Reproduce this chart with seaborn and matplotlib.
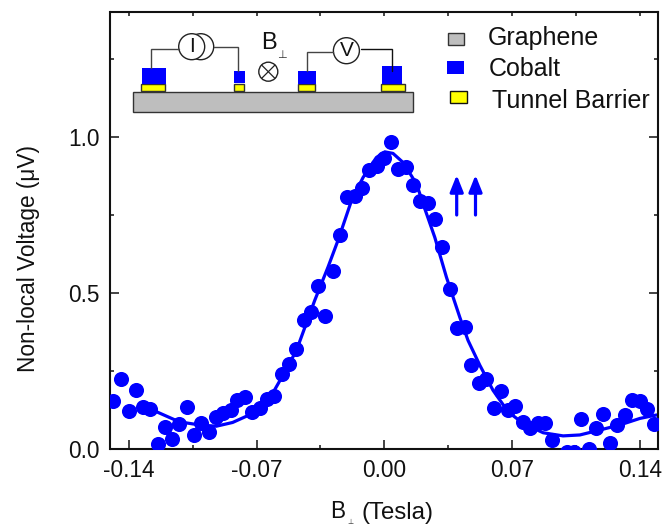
import matplotlib
matplotlib.use('Agg')
import matplotlib.pyplot as plt
import pandas as pd
import seaborn as sns
from matplotlib.patches import Circle, Rectangle
from matplotlib.ticker import FixedLocator

# measured points
field = [-0.1487, -0.1441, -0.1401, -0.1362, -0.1322, -0.1282, -0.1242, -0.1204, -0.1164, -0.1123,
         -0.1083, -0.1043, -0.1003, -0.0963, -0.0924, -0.0884, -0.0842, -0.0805, -0.0763, -0.0723,
         -0.0681, -0.0645, -0.0602, -0.0562, -0.0522, -0.0482, -0.0441, -0.0401, -0.0361, -0.0322,
         -0.0282, -0.0242, -0.0202, -0.0162, -0.0122, -0.0083, -0.0041, -0.0001, 0.0039, 0.0078,
         0.0118, 0.0158, 0.0198, 0.0240, 0.0279, 0.0319, 0.0359, 0.0399, 0.0440, 0.0478,
         0.0518, 0.0558, 0.0599, 0.0639, 0.0677, 0.0717, 0.0759, 0.0799, 0.0840, 0.0880,
         0.0918, 0.0999, 0.1039, 0.1079, 0.1120, 0.1160, 0.1200, 0.1238, 0.1278, 0.1320,
         0.1359, 0.1401, 0.1437, 0.1479]
voltage = [0.153, 0.224, 0.122, 0.189, 0.133, 0.127, 0.015, 0.069, 0.033, 0.081,
           0.134, 0.045, 0.083, 0.054, 0.102, 0.114, 0.124, 0.157, 0.165, 0.120,
           0.132, 0.160, 0.170, 0.239, 0.272, 0.319, 0.414, 0.438, 0.522, 0.426,
           0.571, 0.685, 0.806, 0.811, 0.837, 0.894, 0.907, 0.931, 0.985, 0.896,
           0.904, 0.846, 0.795, 0.788, 0.737, 0.648, 0.511, 0.388, 0.391, 0.269,
           0.211, 0.224, 0.132, 0.186, 0.124, 0.138, 0.088, 0.067, 0.082, 0.083,
           0.030, -0.009, -0.009, 0.097, 0.000, 0.068, 0.111, 0.019, 0.077, 0.108,
           0.157, 0.154, 0.127, 0.081]

# fit curve
fit_field = [-0.1313, -0.1258, -0.1123, -0.1011, -0.0920, -0.0831, -0.0755, -0.0683, -0.0611, -0.0564,
             -0.0481, -0.0381, -0.0308, -0.0253, -0.0180, -0.0116, -0.0043, 0.0003, 0.0048, 0.0103,
             0.0177, 0.0222, 0.0277, 0.0341, 0.0414, 0.0459, 0.0524, 0.0596, 0.0679, 0.0761,
             0.0871, 0.0980, 0.1072, 0.1182, 0.1291, 0.1401, 0.1492]
fit_voltage = [0.133, 0.122, 0.087, 0.077, 0.073, 0.085, 0.105, 0.131, 0.179, 0.227,
               0.316, 0.476, 0.583, 0.669, 0.795, 0.870, 0.934, 0.952, 0.947, 0.918,
               0.849, 0.770, 0.678, 0.550, 0.422, 0.348, 0.268, 0.188, 0.119, 0.082,
               0.052, 0.042, 0.045, 0.061, 0.077, 0.098, 0.109]

x_ticks = [-0.14, -0.07, 0.00, 0.07, 0.14]
x_minor = [-0.105, -0.035, 0.035, 0.105]
y_ticks = [0.0, 0.5, 1.0]
y_minor = [0.25, 0.75, 1.25]

BLUE = '#0000ff'
GRAY = '#bebebe'
YELLOW = '#ffff00'
INK = '#111111'

sns.set_style('ticks')
plt.rcParams['font.family'] = ['Liberation Sans', 'DejaVu Sans']

df = pd.DataFrame({'field': field, 'voltage': voltage})
fit = pd.DataFrame({'field': fit_field, 'voltage': fit_voltage})

fig = plt.figure(figsize=(6.64, 5.29), dpi=100)
ax = fig.add_axes([110.5 / 664, 80 / 529, 547.5 / 664, 437 / 529])

sns.lineplot(data=fit, x='field', y='voltage', color=BLUE, linewidth=2.3, sort=False,
             estimator=None, ax=ax)
sns.scatterplot(data=df, x='field', y='voltage', color=BLUE, s=118, linewidth=0, ax=ax, zorder=3)

ax.set_xlim(-0.15, 0.15)
ax.set_ylim(0, 1.4)
ax.xaxis.set_major_locator(FixedLocator(x_ticks))
ax.xaxis.set_minor_locator(FixedLocator(x_minor))
ax.yaxis.set_major_locator(FixedLocator(y_ticks))
ax.yaxis.set_minor_locator(FixedLocator(y_minor))
ax.set_xticklabels(['%.2f' % t for t in x_ticks])
ax.set_yticklabels(['%.1f' % t for t in y_ticks])
ax.tick_params(which='major', direction='in', length=6.4, width=1.1, labelsize=16.3, pad=7,
               color=INK, labelcolor=INK, right=True)
ax.tick_params(axis='y', which='major', pad=8)
ax.tick_params(which='minor', direction='in', length=3.2, width=1.1, color=INK, right=True)
ax.set_xlabel('(Tesla)', fontsize=17.3, color=INK, ha='left')
ax.xaxis.set_label_coords(0.459, -0.122)
ax.set_ylabel('Non-local Voltage (\u03bcV)', fontsize=16.3, color=INK)
ax.yaxis.set_label_coords(-0.129, 0.435)
for s in ax.spines.values():
    s.set_visible(True)
    s.set_linewidth(1.5)
    s.set_color(INK)

# top edge has short ticks only
top = ax.secondary_xaxis('top')
top.set_xticks(sorted(x_ticks + x_minor))
top.set_xticklabels([])
top.tick_params(direction='in', length=3.2, width=1.1, color=INK)
top.spines['top'].set_visible(False)

# schematic and its key, in image pixels
ov = fig.add_axes([0, 0, 1, 1], zorder=5)
ov.set_xlim(0, 664)
ov.set_ylim(529, 0)
ov.axis('off')
ov.patch.set_alpha(0)


def box(x0, x1, y0, y1, color, edge='#333333', lw=1.0):
    ov.add_patch(Rectangle((x0, y0), x1 - x0, y1 - y0, facecolor=color, edgecolor=edge, linewidth=lw))


def wire(xs, ys, color='#444444'):
    ov.plot(xs, ys, color=color, linewidth=1.0, solid_joinstyle='miter')


box(132.7, 413.3, 91.7, 111.7, GRAY)
for x0, x1 in [(141.4, 165.1), (234.2, 244.2), (298.2, 315.1), (381.3, 404.7)]:
    box(x0, x1, 84, 91, YELLOW)
for x0, x1, y0, y1 in [(141.7, 165.8, 68.3, 84), (234.2, 245, 70.7, 83.3),
                       (297.5, 315.8, 70.7, 84), (382.4, 402.2, 66, 84)]:
    box(x0, x1, y0, y1, BLUE, edge='none', lw=0)

wire([151.4, 151.4, 179], [68.3, 49.3, 49.3])
wire([214.4, 238.1, 238.1], [46.7, 46.7, 70.7])
wire([306.8, 306.8, 333], [70.7, 51.7, 51.7])
wire([360.8, 392.4, 392.4], [49.3, 49.3, 70.7], color=INK)
for cx in [200.7, 191.7]:
    ov.add_patch(Circle((cx, 46.7), 13, facecolor='white', edgecolor='#222222', linewidth=1.0))
ov.add_patch(Circle((346.4, 50.7), 13, facecolor='white', edgecolor='#222222', linewidth=1.0))
ov.text(191.7, 47, 'I', fontsize=15, ha='center', va='center', color=INK)
ov.text(346.4, 51, 'V', fontsize=15, ha='center', va='center', color=INK)
ov.text(269, 43, 'B', fontsize=17, ha='center', va='center', color=INK)
ov.text(282.4, 55, '\u22a5', fontsize=8, ha='center', va='center', color='#333333')
ov.add_patch(Circle((268.3, 71.7), 9.5, facecolor='white', edgecolor='#222222', linewidth=1.0))
ov.plot([261.6, 275], [65, 78.4], color='#222222', linewidth=0.9)
ov.plot([261.6, 275], [78.4, 65], color='#222222', linewidth=0.9)

box(447.5, 463.7, 32.7, 45, GRAY)
box(447, 464, 61.3, 74, BLUE, edge='none', lw=0)
box(450, 466.5, 90.7, 102.7, YELLOW, edge=INK)
ov.text(487.4, 38.5, 'Graphene', fontsize=18, va='center', color=INK)
ov.text(489, 69.5, 'Cobalt', fontsize=18, va='center', color=INK)
ov.text(492, 100.5, 'Tunnel Barrier', fontsize=18, va='center', color=INK)

# spin arrows
for ax_x in [456.7, 475.5]:
    ov.annotate('', xy=(ax_x, 175), xytext=(ax_x, 215),
                arrowprops=dict(arrowstyle='-|>,head_width=0.4,head_length=1.0', color=BLUE,
                                linewidth=2.3, shrinkA=0, shrinkB=0))

# B with its tiny perpendicular mark, left of the x label
ov.text(330, 512, 'B', fontsize=16.3, va='center', color=INK)
ov.text(350, 522, '\u22a5', fontsize=5, ha='center', va='center', color='#333333')

fig.savefig('out.png', dpi=100)
plt.close()
